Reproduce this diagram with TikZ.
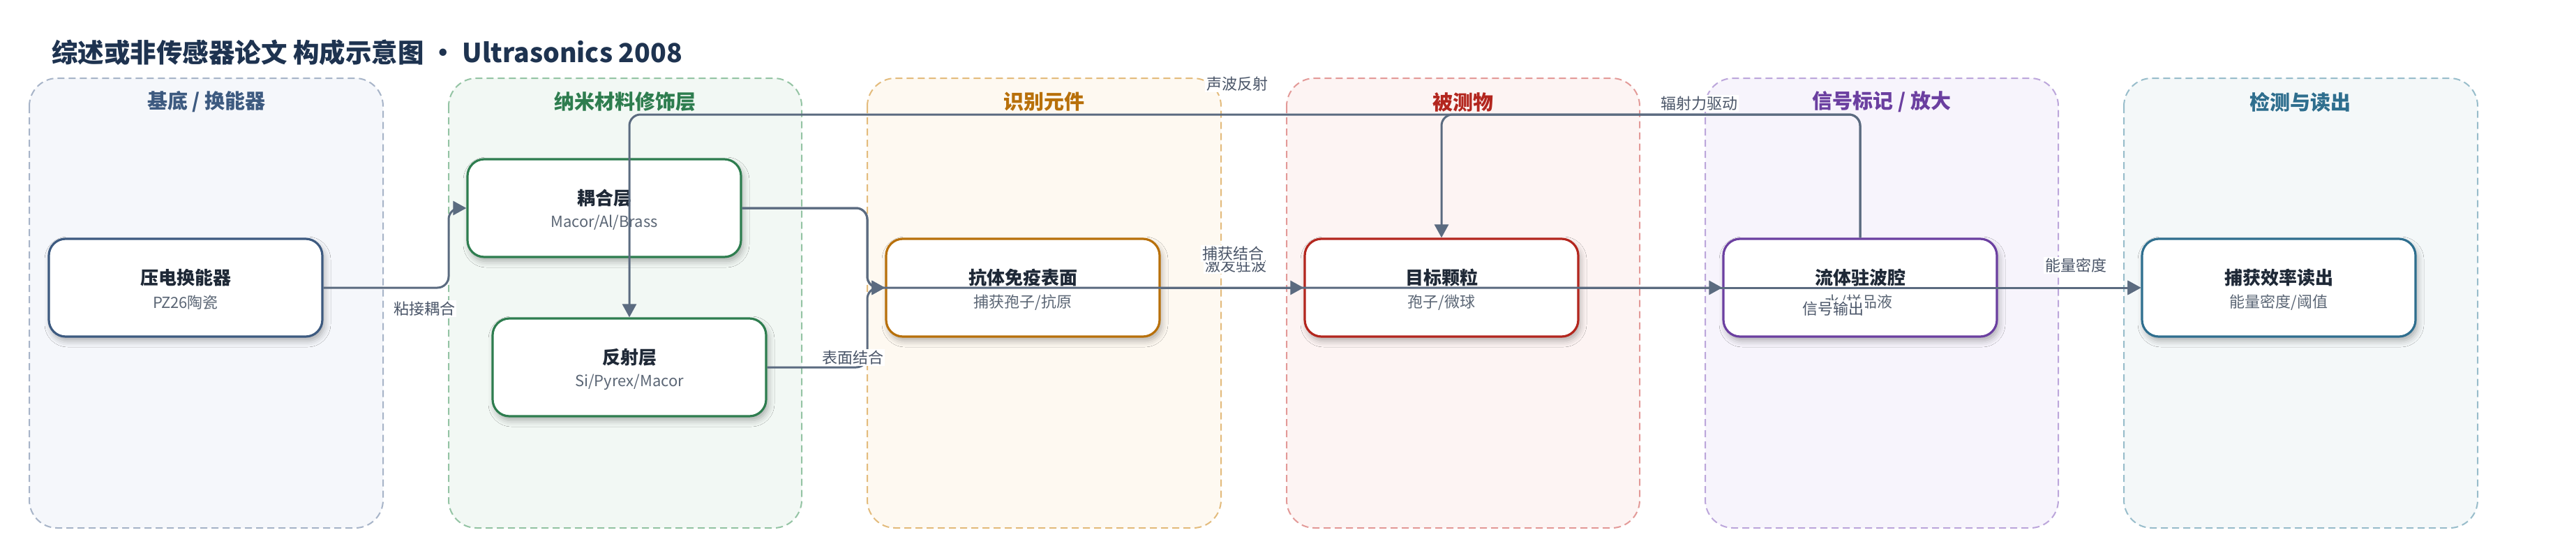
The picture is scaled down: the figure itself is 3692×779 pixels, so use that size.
\documentclass[tikz,border=0pt]{standalone}
\usepackage{fontspec}
\setmainfont{Noto Sans CJK SC}
\usetikzlibrary{arrows.meta,shadows.blur}
\definecolor{ctitle}{HTML}{1E3350}
\definecolor{cttl}{HTML}{1F2937}
\definecolor{csub}{HTML}{5B6675}
\definecolor{clab}{HTML}{4A5568}
\definecolor{cedge}{HTML}{5B6B80}
\definecolor{fA}{HTML}{F5F7FB}\definecolor{dA}{HTML}{A7B4C8}\definecolor{tA}{HTML}{3D5A80}
\definecolor{fB}{HTML}{F2F8F4}\definecolor{dB}{HTML}{94C4A4}\definecolor{tB}{HTML}{2E7D4F}
\definecolor{fC}{HTML}{FEF9F1}\definecolor{dC}{HTML}{E3BB7C}\definecolor{tC}{HTML}{B8700A}
\definecolor{fD}{HTML}{FDF4F3}\definecolor{dD}{HTML}{E39A98}\definecolor{tD}{HTML}{B3261E}
\definecolor{fE}{HTML}{F7F4FC}\definecolor{dE}{HTML}{BCA6DB}\definecolor{tE}{HTML}{6B3FA0}
\definecolor{fF}{HTML}{F4F8F9}\definecolor{dF}{HTML}{98BDCB}\definecolor{tF}{HTML}{2E6E8E}
\begin{document}
\begin{tikzpicture}[x=1pt,y=-1pt,
  lane/.style 2 args={fill=#1, draw=#2, dash pattern=on 10pt off 6pt, line width=2pt, rounded corners=40pt},
  lanetitle/.style={font=\fontsize{29}{34}\selectfont\bfseries, text=#1},
  box/.style={draw=#1, fill=white, line width=3.2pt, rounded corners=24pt, minimum width=392pt, minimum height=140pt, inner sep=0pt,
    blur shadow={shadow xshift=3pt, shadow yshift=-6pt, shadow blur radius=9pt, shadow opacity=30}},
  ttl/.style={font=\fontsize{26}{30}\selectfont\bfseries, text=cttl},
  sub/.style={font=\fontsize{22}{26}\selectfont, text=csub},
  elab/.style={font=\fontsize{22}{26}\selectfont, text=clab, fill=white, inner sep=2pt},
  edge/.style={draw=cedge, line width=3pt, rounded corners=16pt, -{Triangle[length=19pt,width=20pt]}}
]
\fill[white] (0,0) rectangle (3692,779);
\useasboundingbox (0,0) rectangle (3692,779);

\node[anchor=west, font=\fontsize{37.5}{44}\selectfont\bfseries, text=ctitle, inner sep=0pt] (title) at (74,75) {综述或非传感器论文 构成示意图 • Ultrasonics 2008};

% lanes
\path[lane={fA}{dA}] (42,112) rectangle (549,756);
\path[lane={fB}{dB}] (643,112) rectangle (1149,756);
\path[lane={fC}{dC}] (1243,112) rectangle (1750,756);
\path[lane={fD}{dD}] (1844,112) rectangle (2350,756);
\path[lane={fE}{dE}] (2444,112) rectangle (2950,756);
\path[lane={fF}{dF}] (3044,112) rectangle (3551,756);
\node[lanetitle=tA] (lt1) at (296,146) {基底 / 换能器};
\node[lanetitle=tB] (lt2) at (896,146) {纳米材料修饰层};
\node[lanetitle=tC] (lt3) at (1496,146) {识别元件};
\node[lanetitle=tD] (lt4) at (2097,146) {被测物};
\node[lanetitle=tE] (lt5) at (2697,146) {信号标记 / 放大};
\node[lanetitle=tF] (lt6) at (3297,146) {检测与读出};

% nodes
\node[box=tA] (pz) at (266,412) {};
\node[box=tB] (cp) at (866,298) {};
\node[box=tB] (rf) at (902,526) {};
\node[box=tC] (ab) at (1466,412) {};
\node[box=tD] (tg) at (2066,412) {};
\node[box=tE] (fl) at (2666,412) {};
\node[box=tF] (rd) at (3266,412) {};

\node[ttl] (pzt) at (266,398) {压电换能器};
\node[sub] (pzs) at (266,433) {PZ26陶瓷};
\node[ttl] (cpt) at (866,284) {耦合层};
\node[sub] (cps) at (866,319) {Macor/Al/Brass};
\node[ttl] (rft) at (902,512) {反射层};
\node[sub] (rfs) at (902,547) {Si/Pyrex/Macor};
\node[ttl] (abt) at (1466,398) {抗体免疫表面};
\node[sub] (abs) at (1466,433) {捕获孢子/抗原};
\node[ttl] (tgt) at (2066,398) {目标颗粒};
\node[sub] (tgs) at (2066,433) {孢子/微球};
\node[ttl] (flt) at (2666,398) {流体驻波腔};
\node[sub] (fls) at (2664,433) {水/样品液};
\node[ttl] (rdt) at (3266,398) {捕获效率读出};
\node[sub] (rds) at (3266,433) {能量密度/阈值};

% connectors
\draw[edge] (pz.east) -- (643,412) -- (643,298) -- (cp.west);
\draw[edge] (cp.east) -- (1243,298) -- (1243,412) -- (ab.west);
\draw[edge] (rf.east) -- (1243,526) -- (1243,412) -- (ab.west);
\draw[edge] (cp.east) -- (1243,298) -- (1243,412) -- (fl.west);
\draw[edge] (ab.east) -- (tg.west);
\draw[edge] (tg.east) -- (rd.west);
\draw[edge] (fl.east) -- (rd.west);
\draw[edge] (fl.north) -- (2666,164) -- (902,164) -- (rf.north);
\draw[edge] (fl.north) -- (2666,164) -- (2066,164) -- (tg.north);

% labels
\node[elab] (l1) at (608,442) {粘接耦合};
\node[elab] (l3) at (1222,512) {表面结合};
\node[elab] (l5) at (1771,380) {激发驻波};
\node[elab] (l4) at (1767,363) {捕获结合};
\node[elab] (l8) at (1773,120) {声波反射};
\node[elab] (l9) at (2435,148) {辐射力驱动};
\node[elab] (l6) at (2627,442) {信号输出};
\node[elab] (l7) at (2975,380) {能量密度};
\end{tikzpicture}
\end{document}
